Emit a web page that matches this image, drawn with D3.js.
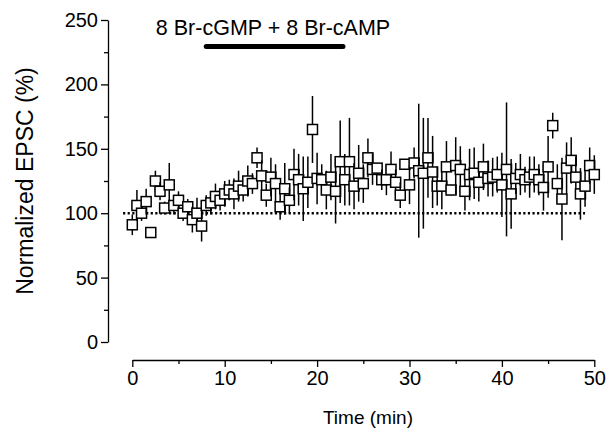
<!DOCTYPE html>
<html>
<head>
<meta charset="utf-8">
<script src="https://cdn.jsdelivr.net/npm/d3@7"></script>
<style>
  body { margin: 0; background: #fff; }
  svg text { font-family: Arial, 'Liberation Sans', sans-serif; fill: #000; }
</style>
</head>
<body>
<div id="chart"></div>
<script>

// Sample times (min), one EPSC every 30 s.
var times = [ 0, 0.5, 1, 1.5, 2, 2.5, 3, 3.5, 4, 4.5, 5, 5.5, 6, 6.5, 7, 7.5, 8, 8.5, 9, 9.5,
  10, 10.5, 11, 11.5, 12, 12.5, 13, 13.5, 14, 14.5, 15, 15.5, 16, 16.5, 17, 17.5, 18, 18.5, 19, 19.5,
  20, 20.5, 21, 21.5, 22, 22.5, 23, 23.5, 24, 24.5, 25, 25.5, 26, 26.5, 27, 27.5, 28, 28.5, 29, 29.5,
  30, 30.5, 31, 31.5, 32, 32.5, 33, 33.5, 34, 34.5, 35, 35.5, 36, 36.5, 37, 37.5, 38, 38.5, 39, 39.5,
  40, 40.5, 41, 41.5, 42, 42.5, 43, 43.5, 44, 44.5, 45, 45.5, 46, 46.5, 47, 47.5, 48, 48.5, 49, 49.5, 50 ];

// Normalized EPSC amplitude (%).
var epsc = [ 91, 106, 100, 109, 85, 125, 117, 104, 122, 106, 110, 100, 105, 95, 100, 90, 106, 108, 113, 110,
  115, 118, 115, 121, 118, 125, 123, 143, 129, 114, 128, 123, 105, 119, 110, 130, 126, 119, 124, 165,
  127, 126, 118, 128, 117, 140, 126, 140, 121, 131, 123, 143, 134, 135, 126, 126, 134, 124, 114, 138,
  122, 139, 133, 131, 143, 132, 121, 121, 136, 118, 137, 134, 117, 130, 131, 124, 136, 127, 128, 130,
  122, 134, 115, 127, 130, 126, 128, 130, 126, 120, 136, 168, 123, 111, 135, 141, 128, 115, 121, 137, 130 ];

// Standard error of each point (%).
var sem = [ 8, 12, 6, 10, 4, 8, 7, 5, 17, 7, 7, 6, 6, 10, 12, 12, 8, 9, 10, 8,
  10, 8, 12, 12, 9, 12, 8, 8, 12, 9, 15, 15, 10, 20, 10, 20, 20, 25, 20, 26,
  20, 12, 15, 18, 25, 32, 20, 34, 18, 22, 15, 15, 12, 4, 8, 12, 14, 10, 10, 4,
  15, 12, 52, 43, 31, 28, 15, 18, 20, 4, 22, 18, 15, 20, 20, 15, 18, 14, 15, 14,
  25, 52, 27, 12, 16, 10, 16, 14, 12, 18, 24, 10, 15, 32, 20, 18, 16, 20, 16, 14, 15 ];

var x_ticks = [ 0, 10, 20, 30, 40, 50 ];
var x_minor = [ 5, 15, 25, 35, 45 ];
var y_ticks = [ 0, 50, 100, 150, 200, 250 ];
var y_minor = [ 25, 75, 125, 175, 225 ];

// Drug application period (min) and baseline line span.
var drug_period = [ 8, 22.8 ];
var baseline_span = [ -1, 49 ];
var baseline_value = 100;

var width = 616, height = 432;

var svg = d3.select( '#chart' )
  .append( 'svg' )
    .attr( 'width', width )
    .attr( 'height', height );

var x_scale = d3.scaleLinear().domain( [0, 50] ).range( [132.3, 594.3] );
var y_scale = d3.scaleLinear().domain( [0, 250] ).range( [342, 20] );

// Y axis, offset from the x axis like the original figure.
var y_axis = svg.append( 'g' )
  .attr( 'transform', 'translate(108,0)' )
  .call( d3.axisLeft( y_scale ).tickValues( y_ticks ).tickSize( 7 ).tickSizeOuter( 0 ).tickPadding( 3 ) );
svg.append( 'g' )
  .attr( 'transform', 'translate(108,0)' )
  .call( d3.axisLeft( y_scale ).tickValues( y_minor ).tickSize( 4 ).tickSizeOuter( 0 ).tickFormat( '' ) )
  .select( '.domain' ).remove();

var x_axis = svg.append( 'g' )
  .attr( 'transform', 'translate(0,360)' )
  .call( d3.axisBottom( x_scale ).tickValues( x_ticks ).tickSize( 7 ).tickSizeOuter( 0 ).tickPadding( 4 ) );
svg.append( 'g' )
  .attr( 'transform', 'translate(0,360)' )
  .call( d3.axisBottom( x_scale ).tickValues( x_minor ).tickSize( 4 ).tickSizeOuter( 0 ).tickFormat( '' ) )
  .select( '.domain' ).remove();

svg.selectAll( '.tick line, .domain' )
  .attr( 'stroke', '#000' )
  .attr( 'stroke-width', 1.3 );
y_axis.selectAll( 'text' ).attr( 'font-size', 20 ).attr( 'font-family', 'Arial, Liberation Sans, sans-serif' );
x_axis.selectAll( 'text' ).attr( 'font-size', 20 ).attr( 'font-family', 'Arial, Liberation Sans, sans-serif' );

// Axis titles.
svg.append( 'text' )
  .attr( 'x', 368 )
  .attr( 'y', 424 )
  .attr( 'text-anchor', 'middle' )
  .attr( 'font-size', 19 )
  .text( 'Time (min)' );

svg.append( 'g' )
  .attr( 'transform', 'translate(33,181)' )
  .append( 'text' )
    .attr( 'text-anchor', 'middle' )
    .attr( 'transform', 'rotate(-90)' )
    .attr( 'font-size', 23 )
    .text( 'Normalized EPSC (%)' );

// Drug bar and its label.
svg.append( 'line' )
  .attr( 'x1', x_scale( drug_period[0] ) )
  .attr( 'x2', x_scale( drug_period[1] ) )
  .attr( 'y1', 46.5 )
  .attr( 'y2', 46.5 )
  .attr( 'stroke', '#000' )
  .attr( 'stroke-width', 5 )
  .attr( 'stroke-linecap', 'round' );

svg.append( 'text' )
  .attr( 'x', 273 )
  .attr( 'y', 35 )
  .attr( 'text-anchor', 'middle' )
  .attr( 'font-size', 21.5 )
  .text( '8 Br-cGMP + 8 Br-cAMP' );

// Dotted 100 % baseline.
svg.append( 'line' )
  .attr( 'x1', x_scale( baseline_span[0] ) )
  .attr( 'x2', x_scale( baseline_span[1] ) )
  .attr( 'y1', y_scale( baseline_value ) )
  .attr( 'y2', y_scale( baseline_value ) )
  .attr( 'stroke', '#000' )
  .attr( 'stroke-width', 2.6 )
  .attr( 'stroke-dasharray', '2.2,2.4' );

// Points: error bar then open square, one group per sample.
var points = times.map( function( t, i ){ return { t: t, v: epsc[i], e: sem[i] } } );
var box = 10;

var pt = svg.append( 'g' )
  .selectAll( 'g' )
  .data( points )
  .enter()
  .append( 'g' );

pt.append( 'line' )
  .attr( 'x1', function( d ){ return x_scale( d.t ) } )
  .attr( 'x2', function( d ){ return x_scale( d.t ) } )
  .attr( 'y1', function( d ){ return y_scale( d.v + d.e ) } )
  .attr( 'y2', function( d ){ return y_scale( d.v - d.e ) } )
  .attr( 'stroke', '#000' )
  .attr( 'stroke-width', 1.5 );

pt.append( 'rect' )
  .attr( 'x', function( d ){ return x_scale( d.t ) - box / 2 } )
  .attr( 'y', function( d ){ return y_scale( d.v ) - box / 2 } )
  .attr( 'width', box )
  .attr( 'height', box )
  .attr( 'fill', '#fff' )
  .attr( 'stroke', '#000' )
  .attr( 'stroke-width', 1.5 );

</script>
</body>
</html>
